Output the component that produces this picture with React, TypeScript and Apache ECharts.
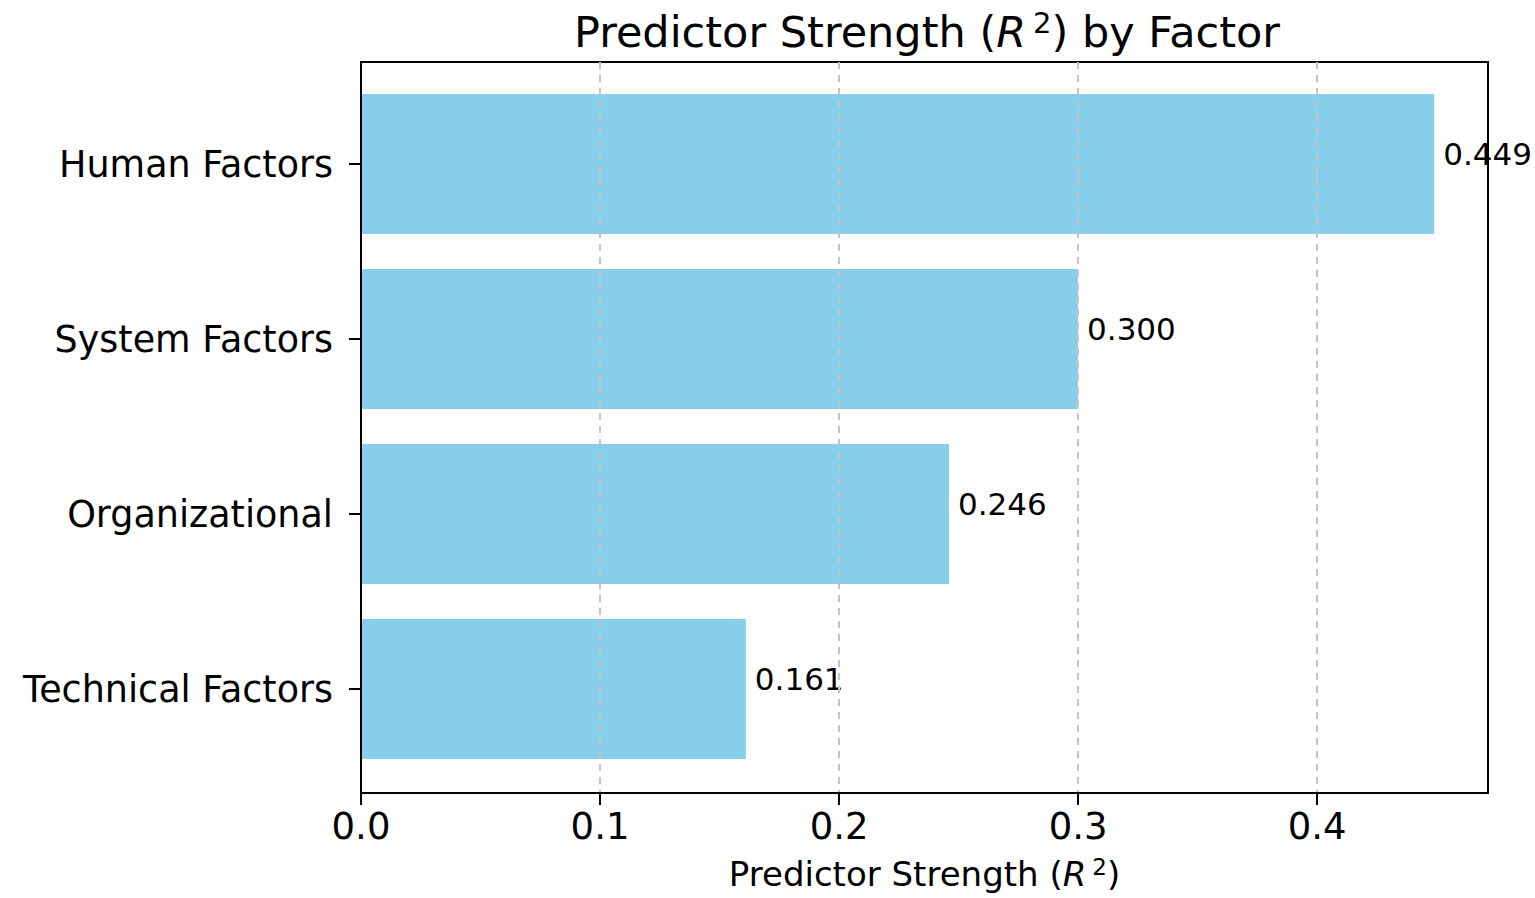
import React, { useEffect, useRef } from "react";
import * as echarts from "echarts";

const categories = ["Human Factors", "System Factors", "Organizational", "Technical Factors"];
const values = [0.449, 0.3, 0.246, 0.161];
const xTicks = [0, 0.1, 0.2, 0.3, 0.4];
const xMax = 0.4715;

const FONT = "'DejaVu Sans', sans-serif";

export default function App() {
  const ref = useRef<HTMLDivElement>(null);
  useEffect(() => {
    document.body.style.margin = "0";
    const chart = echarts.init(ref.current!, null, { renderer: "svg" });
    chart.setOption({
      animation: false,
      backgroundColor: "#fff",
      textStyle: { fontFamily: FONT },
      title: {
        text: "{n|Predictor Strength (}{i|R}{s|2}{n|) by Factor}",
        left: 922,
        top: 3,
        textAlign: "center",
        textStyle: {
          fontWeight: "normal",
          rich: {
            n: { fontSize: 43, color: "#000", fontFamily: FONT, fontWeight: "normal" },
            i: { fontSize: 43, color: "#000", fontStyle: "italic", fontFamily: FONT, fontWeight: "normal" },
            s: { fontSize: 29, color: "#000", fontFamily: FONT, fontWeight: "normal", padding: [0, 0, 18, 7] },
          },
        },
      },
      grid: [
        { left: 361, top: 62, width: 1127, height: 731, show: true, borderColor: "#000", borderWidth: 2, backgroundColor: "transparent" },
        { left: 361, top: 76.5, width: 1127, height: 700 },
      ],
      xAxis: [
        {
          gridIndex: 0,
          type: "value",
          min: 0,
          max: xMax,
          interval: 0.1,
          z: 5,
          name: "{n|Predictor Strength (}{i|R}{s|2}{n|)}",
          nameLocation: "middle",
          nameGap: 62,
          nameTextStyle: {
            rich: {
              n: { fontSize: 34, color: "#000", fontFamily: FONT },
              i: { fontSize: 34, color: "#000", fontStyle: "italic", fontFamily: FONT },
              s: { fontSize: 23, color: "#000", fontFamily: FONT, padding: [0, 0, 15, 6] },
            },
          },
          axisLine: { show: true, lineStyle: { color: "#000", width: 2 } },
          axisTick: { show: true, length: 12, customValues: xTicks, lineStyle: { color: "#000", width: 2 } },
          axisLabel: {
            customValues: xTicks,
            fontSize: 37,
            color: "#000",
            margin: 15,
            fontFamily: FONT,
            formatter: (v: number) => v.toFixed(1),
          },
          splitLine: { show: true, lineStyle: { color: "#c4c4c4", width: 2, type: [7, 6] } },
        },
        { gridIndex: 1, type: "value", min: 0, max: xMax, show: false },
      ],
      yAxis: [
        {
          gridIndex: 0,
          type: "value",
          min: 0,
          max: 1,
          z: 6,
          axisLine: { show: true, lineStyle: { color: "#000", width: 2 } },
          axisTick: { show: false },
          axisLabel: { show: false },
          splitLine: { show: false },
        },
        {
          gridIndex: 1,
          type: "category",
          inverse: true,
          data: categories,
          axisLine: { show: false },
          axisTick: { show: true, alignWithLabel: true, length: 12, lineStyle: { color: "#000", width: 2 } },
          axisLabel: { fontSize: 36.5, color: "#000", margin: 28, fontFamily: FONT },
        },
      ],
      series: [
        {
          type: "bar",
          xAxisIndex: 1,
          yAxisIndex: 1,
          data: values,
          barWidth: "80%",
          itemStyle: { color: "#87CEEB" },
          label: {
            show: true,
            position: "right",
            distance: 9,
            offset: [0, -10],
            fontSize: 31,
            color: "#000",
            fontFamily: FONT,
            formatter: (p: any) => Number(p.value).toFixed(3),
          },
        },
      ],
    });
    return () => chart.dispose();
  }, []);
  return <div ref={ref} style={{ width: 1535, height: 898 }} />;
}
